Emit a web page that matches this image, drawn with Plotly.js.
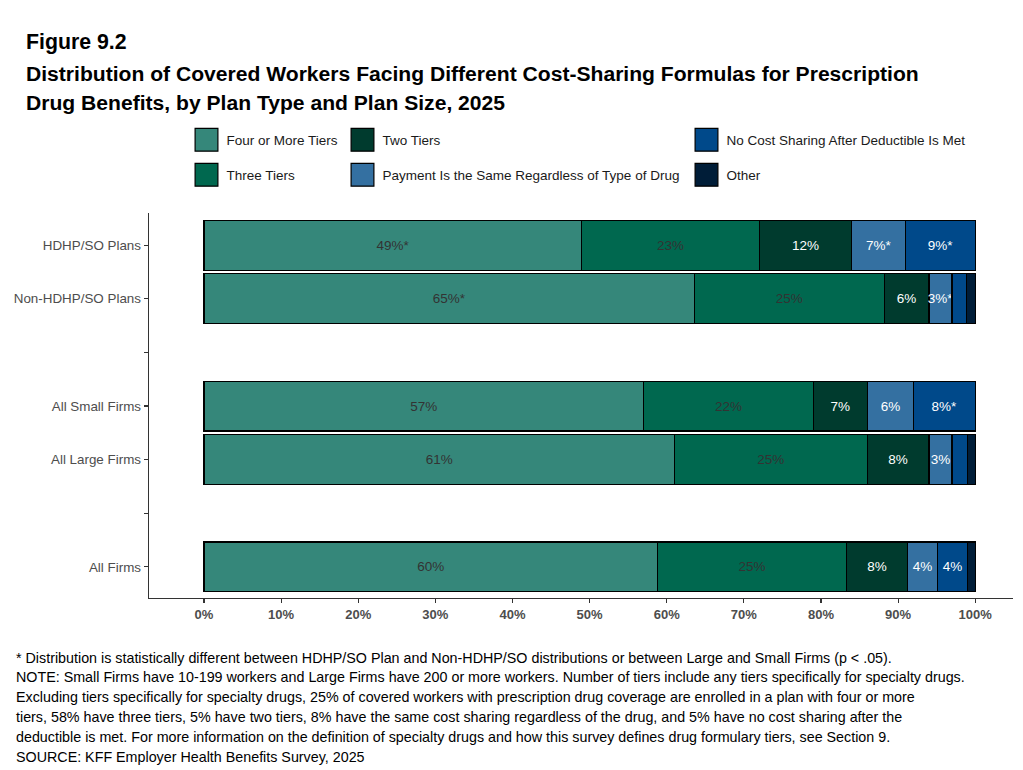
<!DOCTYPE html>
<html>
<head>
<meta charset="utf-8">
<script src="https://cdn.plot.ly/plotly-3.0.1.min.js"></script>
<style>html,body{margin:0;padding:0;background:#fff;}</style>
</head>
<body>
<div id="chart" style="width:1023px;height:770px;"></div>
<script>
// ---- data ----
const categories = ["HDHP/SO Plans", "Non-HDHP/SO Plans", "All Small Firms", "All Large Firms", "All Firms"];
const axisSlots = ["HDHP/SO Plans", "Non-HDHP/SO Plans", " ", "All Small Firms", "All Large Firms", "  ", "All Firms"];
const seriesNames = ["Four or More Tiers", "Three Tiers", "Two Tiers", "Payment Is the Same Regardless of Type of Drug", "No Cost Sharing After Deductible Is Met", "Other"];
const fourOrMore = [49, 63.6, 57, 61, 58.8];
const threeTiers = [23, 24.6, 22, 25, 24.5];
const twoTiers = [12, 5.8, 7, 8, 7.9];
const sameRegardless = [7, 3.0, 6, 3, 3.9];
const noCostSharing = [9, 1.9, 8, 2, 3.9];
const other = [0, 1.1, 0, 1, 1.0];
const labelsFour = ["49%*", "65%*", "57%", "61%", "60%"];
const labelsThree = ["23%", "25%", "22%", "25%", "25%"];
const labelsTwo = ["12%", "6%", "7%", "8%", "8%"];
const labelsSame = ["7%*", "3%*", "6%", "3%", "4%"];
const labelsNoCost = ["9%*", "", "8%*", "", "4%"];
const labelsOther = ["", "", "", "", ""];
const xTickVals = [0, 10, 20, 30, 40, 50, 60, 70, 80, 90, 100];
const xTickText = xTickVals.map(v => v + "%");

// ---- styles ----
const FONT = "Liberation Sans, Arial, Helvetica, sans-serif";
const colors = ["#35877a", "#00684f", "#003b2e", "#3470a1", "#00498a", "#001d38"];
const textColors = ["#333333", "#333333", "#ffffff", "#ffffff", "#ffffff", "#ffffff"];
const values = [fourOrMore, threeTiers, twoTiers, sameRegardless, noCostSharing, other];
const labels = [labelsFour, labelsThree, labelsTwo, labelsSame, labelsNoCost, labelsOther];
const legendIds = ["legend", "legend4", "legend2", "legend5", "legend3", "legend6"];

const traces = values.map((v, i) => ({
  type: "bar",
  orientation: "h",
  name: seriesNames[i],
  x: v,
  y: categories,
  text: labels[i],
  textposition: "inside",
  insidetextanchor: "middle",
  constraintext: "none",
  textangle: 0,
  textfont: {family: FONT, size: 13.5, color: textColors[i]},
  marker: {color: colors[i], line: {color: "#000000", width: 1.2}},
  legend: legendIds[i],
  showlegend: true,
  hoverinfo: "name+x+y"
}));

function legendAt(px, py) {
  return {
    xref: "container", yref: "container",
    x: px / 1023, y: 1 - py / 770,
    xanchor: "left", yanchor: "middle",
    orientation: "v",
    bgcolor: "rgba(0,0,0,0)",
    borderwidth: 0,
    visible: true,
    font: {family: FONT, size: 13.5, color: "#1a1a1a"}
  };
}

const W = 864, H = 385, L = 149, T = 213;
const px = v => (v - L) / W;
const py = v => (T + H - v) / H;

const footLines = [
  "* Distribution is statistically different between HDHP/SO Plan and Non-HDHP/SO distributions or between Large and Small Firms (p &lt; .05).",
  "NOTE: Small Firms have 10-199 workers and Large Firms have 200 or more workers. Number of tiers include any tiers specifically for specialty drugs.",
  "Excluding tiers specifically for specialty drugs, 25% of covered workers with prescription drug coverage are enrolled in a plan with four or more",
  "tiers, 58% have three tiers, 5% have two tiers, 8% have the same cost sharing regardless of the drug, and 5% have no cost sharing after the",
  "deductible is met. For more information on the definition of specialty drugs and how this survey defines drug formulary tiers, see Section 9.",
  "SOURCE: KFF Employer Health Benefits Survey, 2025"
];
const footY = [658, 677, 697, 717, 737, 757];

const annotations = [
  {text: "Distribution of Covered Workers Facing Different Cost-Sharing Formulas for Prescription", x: px(24), y: py(73)},
  {text: "Drug Benefits, by Plan Type and Plan Size, 2025", x: px(24), y: py(102)}
].map(a => Object.assign(a, {xref: "paper", yref: "paper", xanchor: "left", yanchor: "middle", showarrow: false,
  font: {family: FONT, size: 21.1, color: "#000000", weight: "bold"}}));

footLines.forEach((t, i) => annotations.push({
  text: t, xref: "paper", yref: "paper", x: px(14), y: py(footY[i]),
  xanchor: "left", yanchor: "middle", showarrow: false, align: "left",
  font: {family: FONT, size: 14.3, color: "#000000"}
}));

const layout = {
  width: 1023, height: 770,
  margin: {l: L, r: 1023 - L - W, t: T, b: 770 - T - H, pad: 0, autoexpand: false},
  paper_bgcolor: "#ffffff", plot_bgcolor: "#ffffff",
  barmode: "stack", bargap: 0.07,
  title: {text: "Figure 9.2", xref: "container", yref: "container", x: 26 / 1023, y: 1 - 42 / 770,
    xanchor: "left", yanchor: "middle", font: {family: FONT, size: 21.3, color: "#000000", weight: "bold"}},
  xaxis: {
    range: [-7.13, 104.9], tickmode: "array", tickvals: xTickVals, ticktext: xTickText,
    showgrid: false, zeroline: false, showline: true, linecolor: "#333333", linewidth: 1.3,
    ticks: "outside", ticklen: 4, tickcolor: "#333333", tickwidth: 1.1, automargin: false,
    tickfont: {family: FONT, size: 13, color: "#4d4d4d", weight: "bold"}, fixedrange: true
  },
  yaxis: {
    type: "category", categoryorder: "array", categoryarray: axisSlots,
    range: [6.58, -0.6], automargin: false,
    showgrid: false, zeroline: false, showline: true, linecolor: "#333333", linewidth: 1.3,
    ticks: "outside", ticklen: 4, tickcolor: "#333333", tickwidth: 1.1,
    tickfont: {family: FONT, size: 13.4, color: "#4d4d4d"}, fixedrange: true
  },
  legend: legendAt(186.5, 140),
  legend4: legendAt(186.5, 175),
  legend2: legendAt(342.5, 140),
  legend5: legendAt(342.5, 175),
  legend3: legendAt(686.5, 140),
  legend6: legendAt(686.5, 175),
  annotations: annotations,
  font: {family: FONT}
};

Plotly.newPlot("chart", traces, layout, {displayModeBar: false, staticPlot: true}).then(gd => {
  gd.querySelectorAll(".legendpoints path").forEach(p => {
    const t = p.getAttribute("transform") || "";
    p.setAttribute("transform", t + " scale(1.9)");
    p.setAttribute("vector-effect", "non-scaling-stroke");
    p.style.strokeWidth = "1.2px";
  });
});
</script>
</body>
</html>
